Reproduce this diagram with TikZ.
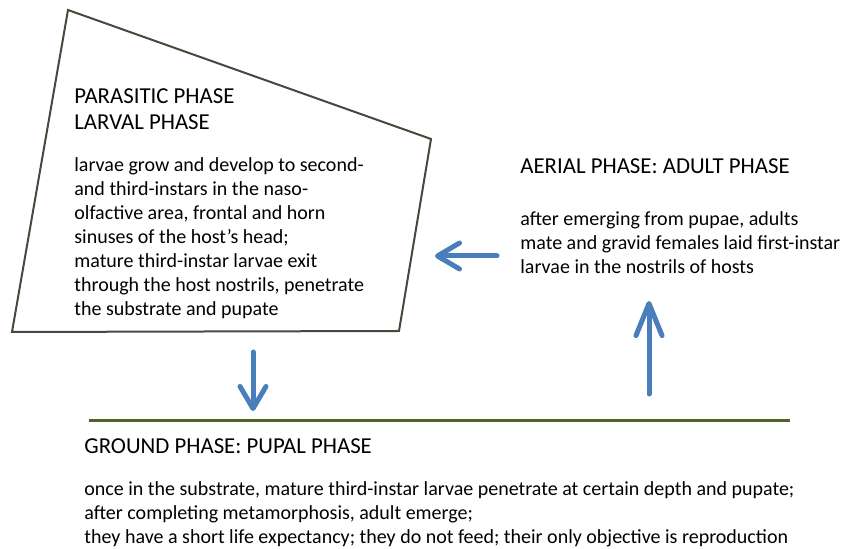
\documentclass[tikz,border=0pt]{standalone}
\usepackage{fontspec}
\setmainfont{Carlito}
\usepackage{xcolor}
\usetikzlibrary{arrows.meta,positioning}

\definecolor{flowblue}{HTML}{4A7EBB}
\definecolor{groundgreen}{HTML}{4F6228}
\definecolor{boxbrown}{HTML}{4D463C}

\begin{document}
\begin{tikzpicture}[x=0.5pt, y=-0.5pt,
    phasetitle/.style={anchor=base west, inner sep=0pt, align=left, font=\fontsize{11.4}{13}\selectfont},
    phasetext/.style={anchor=base west, inner sep=0pt, align=left, font=\fontsize{10}{12}\selectfont},
    flow/.style={draw=flowblue, line width=2.5pt, line cap=round,
        -{Straight Barb[round, length=11pt, width=13pt]}}]
\useasboundingbox (0,0) rectangle (846,549);

% Parasitic phase box
\coordinate (pa) at (68,10);
\coordinate (pb) at (431,139);
\coordinate (pc) at (399,331);
\coordinate (pd) at (12,332);
\draw[boxbrown, line width=1pt, line join=miter] (pa) -- (pb) -- (pc) -- (pd) -- cycle;

% (base of a multi-line node = its last line)
\node[phasetitle] (parasitic) at (74,130) {PARASITIC PHASE\\LARVAL PHASE};
\node[phasetext] (larval) at (74,316) {larvae grow and develop to second-\\and third-instars in the naso-\\olfactive area, frontal and horn\\sinuses of the host's head;\\mature third-instar larvae exit\\through the host nostrils, penetrate\\the substrate and pupate};

% Aerial phase
\node[phasetitle] (aerial) at (520,174) {AERIAL PHASE: ADULT PHASE};
\node[phasetext] (adult) at (520,274) {after emerging from pupae, adults\\mate and gravid females laid first-instar\\larvae in the nostrils of hosts};

% Ground line
\coordinate (gl) at (89,421);
\coordinate (gr) at (790,421);
\draw[groundgreen, line width=1.5pt] (gl) -- (gr);

% Ground phase
\node[phasetitle] (ground) at (84,454) {GROUND PHASE: PUPAL PHASE};
\node[phasetext] (pupal) at (84,544) {once in the substrate, mature third-instar larvae penetrate at certain depth and pupate;\\after completing metamorphosis, adult emerge;\\they have a short life expectancy; they do not feed; their only objective is reproduction};

% Arrows between phases
\coordinate (lefttail) at (497,256);
\coordinate (lefthead) at (435,256);
\coordinate (downtail) at (253,352);
\coordinate (downhead) at (253,411);
\coordinate (uptail) at (649,394);
\coordinate (uphead) at (649,301);
\draw[flow] (lefttail) -- (lefthead);
\draw[flow] (downtail) -- (downhead);
\draw[flow, -{Straight Barb[round, length=16pt, width=13pt]}] (uptail) -- (uphead);
\end{tikzpicture}
\end{document}
